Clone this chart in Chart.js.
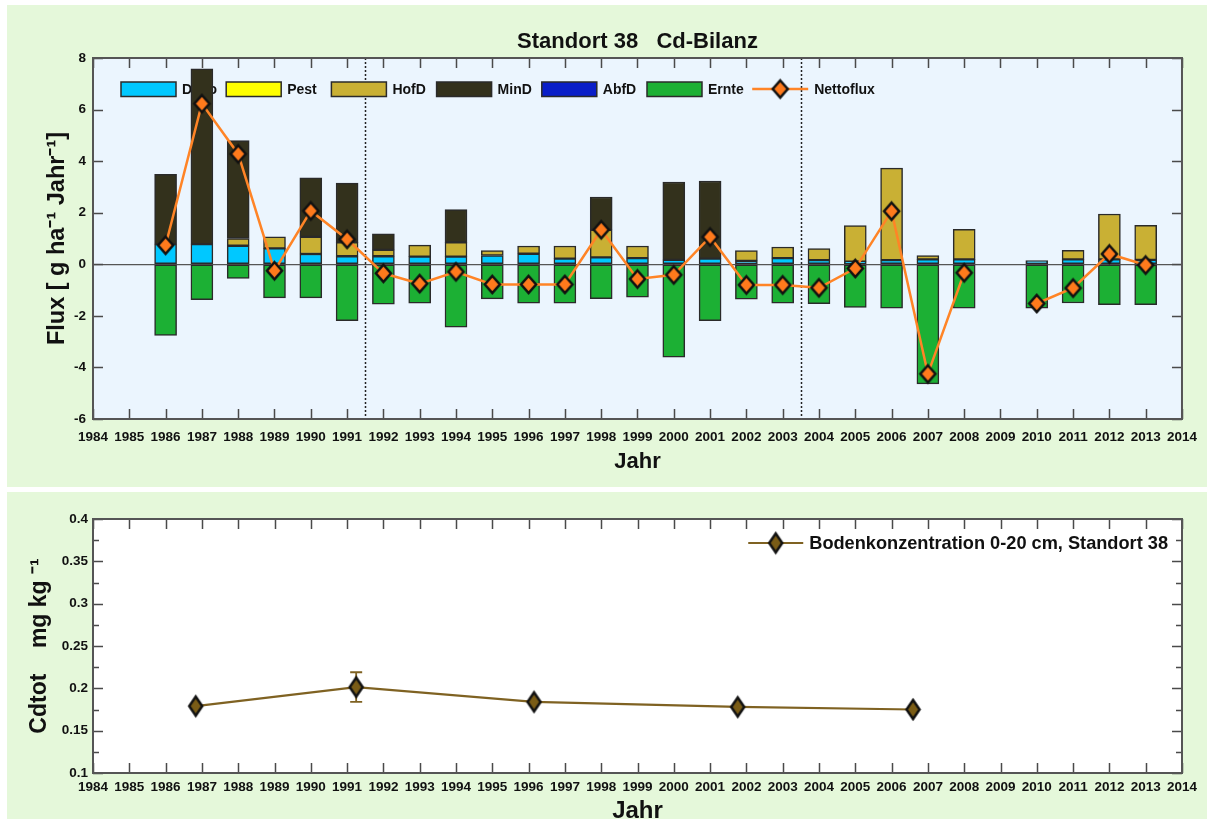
<!DOCTYPE html>
<html><head><meta charset="utf-8">
<script src="https://cdn.jsdelivr.net/npm/chart.js@4"></script>
<style>
html,body{margin:0;padding:0;background:#fff;}
body{width:1215px;height:823px;position:relative;overflow:hidden;}
.panel{position:absolute;background:#e5f8da;}
#p1{left:7px;top:5px;width:1200px;height:482px;}
#p2{left:7px;top:492px;width:1200px;height:327px;}
canvas{position:absolute;}
#c1{left:7px;top:5px;}
#c2{left:7px;top:492px;}
</style></head>
<body>
<div class="panel" id="p1"></div>
<div class="panel" id="p2"></div>
<canvas id="c1" width="1200" height="482"></canvas>
<canvas id="c2" width="1200" height="331"></canvas>
<script>
// ---------------- data: Cd-Bilanz (top) ----------------
const years  = [1986,1987,1988,1989,1990,1991,1992,1993,1994,1995,1996,1997,1998,1999,2000,2001,2002,2003,2004,2005,2006,2007,2008,2009,2010,2011,2012,2013];
const depo   = [0.78,0.78,0.72,0.62,0.40,0.31,0.31,0.30,0.30,0.34,0.41,0.22,0.27,0.24,0.17,0.22,0.13,0.24,0.16,0.10,0.16,0.19,0.19,0,0.14,0.19,0.19,0.17];
const pest   = [0,0,0,0,0,0,0,0,0,0,0,0,0,0,0,0,0,0,0,0,0,0,0,0,0,0,0,0];
const hofd   = [0,0,0.28,0.44,0.66,0.54,0.25,0.44,0.55,0.19,0.30,0.49,1.07,0.47,0,0,0.40,0.43,0.45,1.40,3.57,0.15,1.17,0,0,0.35,1.76,1.34];
const mind   = [2.71,6.80,3.80,0,2.29,2.30,0.62,0,1.27,0,0,0,1.27,0,3.02,3.01,0,0,0,0,0,0,0,0,0,0,0,0];
const abfd   = [0,0,0,0,0,0,0,0,0,0,0,0,0,0,0,0,0,0,0,0,0,0,0,0,0,0,0,0];
const ernte  = [-2.76,-1.37,-0.55,-1.30,-1.30,-2.19,-1.55,-1.51,-2.44,-1.34,-1.51,-1.51,-1.33,-1.28,-3.60,-2.19,-1.35,-1.51,-1.53,-1.67,-1.70,-4.64,-1.70,0,-1.70,-1.50,-1.57,-1.57];
const netto  = [0.74,6.23,4.28,-0.25,2.07,0.97,-0.35,-0.75,-0.29,-0.78,-0.78,-0.78,1.34,-0.57,-0.41,1.06,-0.80,-0.80,-0.91,-0.16,2.06,-4.25,-0.33,null,-1.52,-0.92,0.40,-0.03];
const periodBreaks = [1991.5, 2003.5];

// ---------------- data: Bodenkonzentration (bottom) ----------------
const soilYears = [1986.83, 1991.25, 1996.15, 2001.76, 2006.59];
const soilConc  = [0.179, 0.2015, 0.184, 0.178, 0.175];
const soilErr   = [0, 0.0175, 0, 0, 0];

// tick / label texts
const yearMin = 1984, yearMax = 2014;
const fluxTitle = 'Flux [ g ha\u207B\u00B9 Jahr\u207B\u00B9]';
const concTitle = 'Cdtot    mg kg \u207B\u00B9';
const chartTitle = 'Standort 38   Cd-Bilanz';
const soilLabel = 'Bodenkonzentration 0-20 cm, Standort 38';

// ---------------- styles ----------------
const FONT = "'Liberation Sans', Arial, sans-serif";
const TXT = '#111';
const AXIS = '#4a4a4a';
const C = {depo:'#00c8ff', pest:'#ffff00', hofd:'#c9b034', mind:'#33311c', abfd:'#0a1ec8', ernte:'#1cb034', netto:'#ff8426', nettoFill:'#ff7a1c', soil:'#7f6222', soilFill:'#7a5c16'};

function diamond(w,h,fill,stroke,lw){
  const c=document.createElement('canvas');
  const pad=Math.ceil(lw);
  c.width=w+2*pad; c.height=h+2*pad;
  const g=c.getContext('2d');
  g.translate(pad,pad);
  g.beginPath(); g.moveTo(w/2,0); g.lineTo(w,h/2); g.lineTo(w/2,h); g.lineTo(0,h/2); g.closePath();
  g.fillStyle=fill; g.fill(); g.lineWidth=lw; g.strokeStyle=stroke; g.stroke();
  return c;
}
const nettoMarker = diamond(15,17,C.nettoFill,'#111',2.5);
const soilMarker = diamond(13,19,C.soilFill,'#111',2.5);

const pts = arr => years.map((y,i)=>({x:y, y:arr[i]}));

function frame(opts){
  return {
    id:'frame',
    beforeDraw(chart){
      const {ctx, chartArea:a} = chart;
      ctx.save(); ctx.fillStyle=opts.bg;
      ctx.fillRect(a.left,a.top,a.right-a.left,a.bottom-a.top); ctx.restore();
    },
    afterDatasetsDraw(chart){
      const {ctx, chartArea:a, scales:{x,y}} = chart;
      ctx.save(); ctx.strokeStyle=AXIS; ctx.lineWidth=1.5; ctx.beginPath();
      x.ticks.forEach(t=>{ const px=Math.round(x.getPixelForValue(t.value))+0.5;
        ctx.moveTo(px,a.bottom); ctx.lineTo(px,a.bottom-opts.tl);
        ctx.moveTo(px,a.top); ctx.lineTo(px,a.top+opts.tl); });
      y.ticks.forEach(t=>{ const py=Math.round(y.getPixelForValue(t.value))+0.5;
        ctx.moveTo(a.left,py); ctx.lineTo(a.left+opts.tl,py);
        ctx.moveTo(a.right,py); ctx.lineTo(a.right-opts.tl,py); });
      if (opts.minorStep){
        for(let v=y.min+opts.minorStep; v<y.max-1e-9; v+=opts.minorStep*2){
          const py=Math.round(y.getPixelForValue(v))+0.5;
          ctx.moveTo(a.left,py); ctx.lineTo(a.left+opts.minorTl,py);
          ctx.moveTo(a.right,py); ctx.lineTo(a.right-opts.minorTl,py);
        }
      }
      ctx.stroke();
      ctx.strokeStyle='#555'; ctx.lineWidth=2;
      ctx.strokeRect(a.left,a.top,a.right-a.left,a.bottom-a.top);
      ctx.restore();
    }
  };
}

const topExtras = {
  id:'topExtras',
  beforeDatasetsDraw(chart){
    const {ctx, chartArea:a, scales:{x}} = chart;
    ctx.save();
    // dotted period separators
    ctx.setLineDash([2,2]); ctx.strokeStyle='#222'; ctx.lineWidth=1.5;
    periodBreaks.forEach(v=>{ const px=Math.round(x.getPixelForValue(v))+0.5;
      ctx.beginPath(); ctx.moveTo(px,a.top); ctx.lineTo(px,a.bottom); ctx.stroke(); });
    ctx.setLineDash([]);
    // legend (drawn beneath the bars)
    const cy=a.top+31, step=105.2; let x0=a.left+28;
    ctx.font='bold 14px '+FONT; ctx.textBaseline='middle'; ctx.textAlign='left'; 
    chart.data.datasets.forEach((ds,i)=>{
      const bx=x0+i*step;
      if (ds.type==='line'){
        ctx.strokeStyle=ds.borderColor; ctx.lineWidth=2.5;
        ctx.beginPath(); ctx.moveTo(bx,cy); ctx.lineTo(bx+56,cy); ctx.stroke();
        ctx.drawImage(nettoMarker, bx+28-nettoMarker.width/2, cy-nettoMarker.height/2);
        ctx.fillStyle=TXT; ctx.fillText(ds.label, bx+62, cy+1);
      } else {
        ctx.fillStyle=ds.backgroundColor; ctx.fillRect(bx,cy-7,55,14.5);
        ctx.strokeStyle='#2a2a2a'; ctx.lineWidth=1.5; ctx.strokeRect(bx,cy-7,55,14.5);
        ctx.fillStyle=TXT; ctx.fillText(ds.label, bx+61, cy+1);
      }
    });
    ctx.restore();
  },
  afterDraw(chart){
    const {ctx, chartArea:a} = chart;
    ctx.save(); ctx.font='bold 22px '+FONT; ctx.fillStyle=TXT; ctx.textAlign='center'; ctx.textBaseline='middle';
    ctx.fillText(chartTitle,(a.left+a.right)/2,37); ctx.restore();
  }
};

const barDs = (label, arr, color) => ({type:'bar', label, data:pts(arr), backgroundColor:color,
  borderColor:'#2a2a2a', borderWidth:1.5, borderSkipped:false, barThickness:22});

const tickFont = {family:FONT, size:13.5, weight:'bold'};

new Chart(document.getElementById('c1'), {
  type:'bar',
  data:{datasets:[
    barDs('Depo', depo, C.depo),
    barDs('Pest', pest, C.pest),
    barDs('HofD', hofd, C.hofd),
    barDs('MinD', mind, C.mind),
    barDs('AbfD', abfd, C.abfd),
    barDs('Ernte', ernte, C.ernte),
    {type:'line', label:'Nettoflux', data:pts(netto), order:-1, borderColor:C.netto, borderWidth:2.5,
     pointStyle:nettoMarker, pointRadius:8, spanGaps:false, fill:false, tension:0}
  ]},
  options:{
    responsive:false, animation:false, events:[],
    layout:{padding:{top:53,right:25,left:0,bottom:0}, autoPadding:false},
    plugins:{legend:{display:false}, tooltip:{enabled:false}, title:{display:false}},
    scales:{
      x:{type:'linear', min:yearMin, max:yearMax, offset:false, stacked:true,
        grid:{display:false, offset:false, drawTicks:false}, border:{display:false},
        ticks:{stepSize:1, autoSkip:false, maxRotation:0, padding:10, color:TXT, font:tickFont, callback:v=>String(v)},
        title:{display:true, text:'Jahr', color:TXT, font:{family:FONT,size:22,weight:'bold'}, padding:{top:0,bottom:12}},
        afterFit(s){ s.height=68; }},
      y:{type:'linear', min:-6, max:8, stacked:true,
        grid:{drawTicks:false, color:c=> (c.tick && c.tick.value===0) ? '#555' : 'rgba(0,0,0,0)', lineWidth:1.3},
        border:{display:false},
        ticks:{stepSize:2, padding:7, color:TXT, font:tickFont, callback:v=>String(v)},
        title:{display:true, text:fluxTitle, color:TXT, font:{family:FONT,size:23.5,weight:'bold'}, padding:{top:36,bottom:0}},
        afterFit(s){ s.width=86; }}
    }
  },
  plugins:[frame({bg:'#ebf5fe', tl:10}), topExtras]
});

const bottomExtras = {
  id:'bottomExtras',
  beforeDatasetsDraw(chart){
    const {ctx, scales:{x,y}} = chart;
    ctx.save(); ctx.strokeStyle=C.soil; ctx.lineWidth=1.8; ctx.beginPath();
    soilYears.forEach((yr,i)=>{ if(!soilErr[i]) return;
      const px=x.getPixelForValue(yr), y1=y.getPixelForValue(soilConc[i]+soilErr[i]), y2=y.getPixelForValue(soilConc[i]-soilErr[i]);
      ctx.moveTo(px,y1); ctx.lineTo(px,y2);
      ctx.moveTo(px-6,y1); ctx.lineTo(px+6,y1);
      ctx.moveTo(px-6,y2); ctx.lineTo(px+6,y2); });
    ctx.stroke(); ctx.restore();
  },
  afterDatasetsDraw(chart){
    const {ctx, chartArea:a} = chart;
    ctx.save(); ctx.font='bold 18.2px '+FONT; ctx.fillStyle=TXT; ctx.textBaseline='middle'; ctx.textAlign='left';
    const w=ctx.measureText(soilLabel).width;
    const tx=a.right-14-w, cy=a.top+24;
    ctx.strokeStyle=C.soil; ctx.lineWidth=2.2;
    ctx.beginPath(); ctx.moveTo(tx-61,cy); ctx.lineTo(tx-6,cy); ctx.stroke();
    ctx.drawImage(soilMarker, tx-33.5-soilMarker.width/2, cy-soilMarker.height/2);
    ctx.fillText(soilLabel, tx, cy+1);
    ctx.restore();
  }
};

new Chart(document.getElementById('c2'), {
  type:'line',
  data:{datasets:[{label:soilLabel, data:soilYears.map((yr,i)=>({x:yr, y:soilConc[i]})),
    borderColor:C.soil, borderWidth:2.2, pointStyle:soilMarker, pointRadius:9, fill:false, tension:0}]},
  options:{
    responsive:false, animation:false, events:[],
    layout:{padding:{top:27,right:25,left:0,bottom:0}, autoPadding:false},
    plugins:{legend:{display:false}, tooltip:{enabled:false}, title:{display:false}},
    scales:{
      x:{type:'linear', min:yearMin, max:yearMax, offset:false,
        grid:{display:false, drawTicks:false}, border:{display:false},
        ticks:{stepSize:1, autoSkip:false, maxRotation:0, padding:6, color:TXT, font:tickFont, callback:v=>String(v)},
        title:{display:true, text:'Jahr', color:TXT, font:{family:FONT,size:24,weight:'bold',lineHeight:1}, padding:{top:0,bottom:0}},
        afterFit(s){ s.height=50; }},
      y:{type:'linear', min:0.1, max:0.4,
        grid:{display:false, drawTicks:false}, border:{display:false},
        ticks:{stepSize:0.05, padding:5, color:TXT, font:tickFont, callback:v=>String(+v.toFixed(3))},
        title:{display:true, text:concTitle, color:TXT, font:{family:FONT,size:23,weight:'bold'}, padding:{top:19,bottom:0}},
        afterFit(s){ s.width=86; }}
    }
  },
  plugins:[frame({bg:'#ffffff', tl:10, minorStep:0.025, minorTl:6}), bottomExtras]
});
</script>
</body></html>
